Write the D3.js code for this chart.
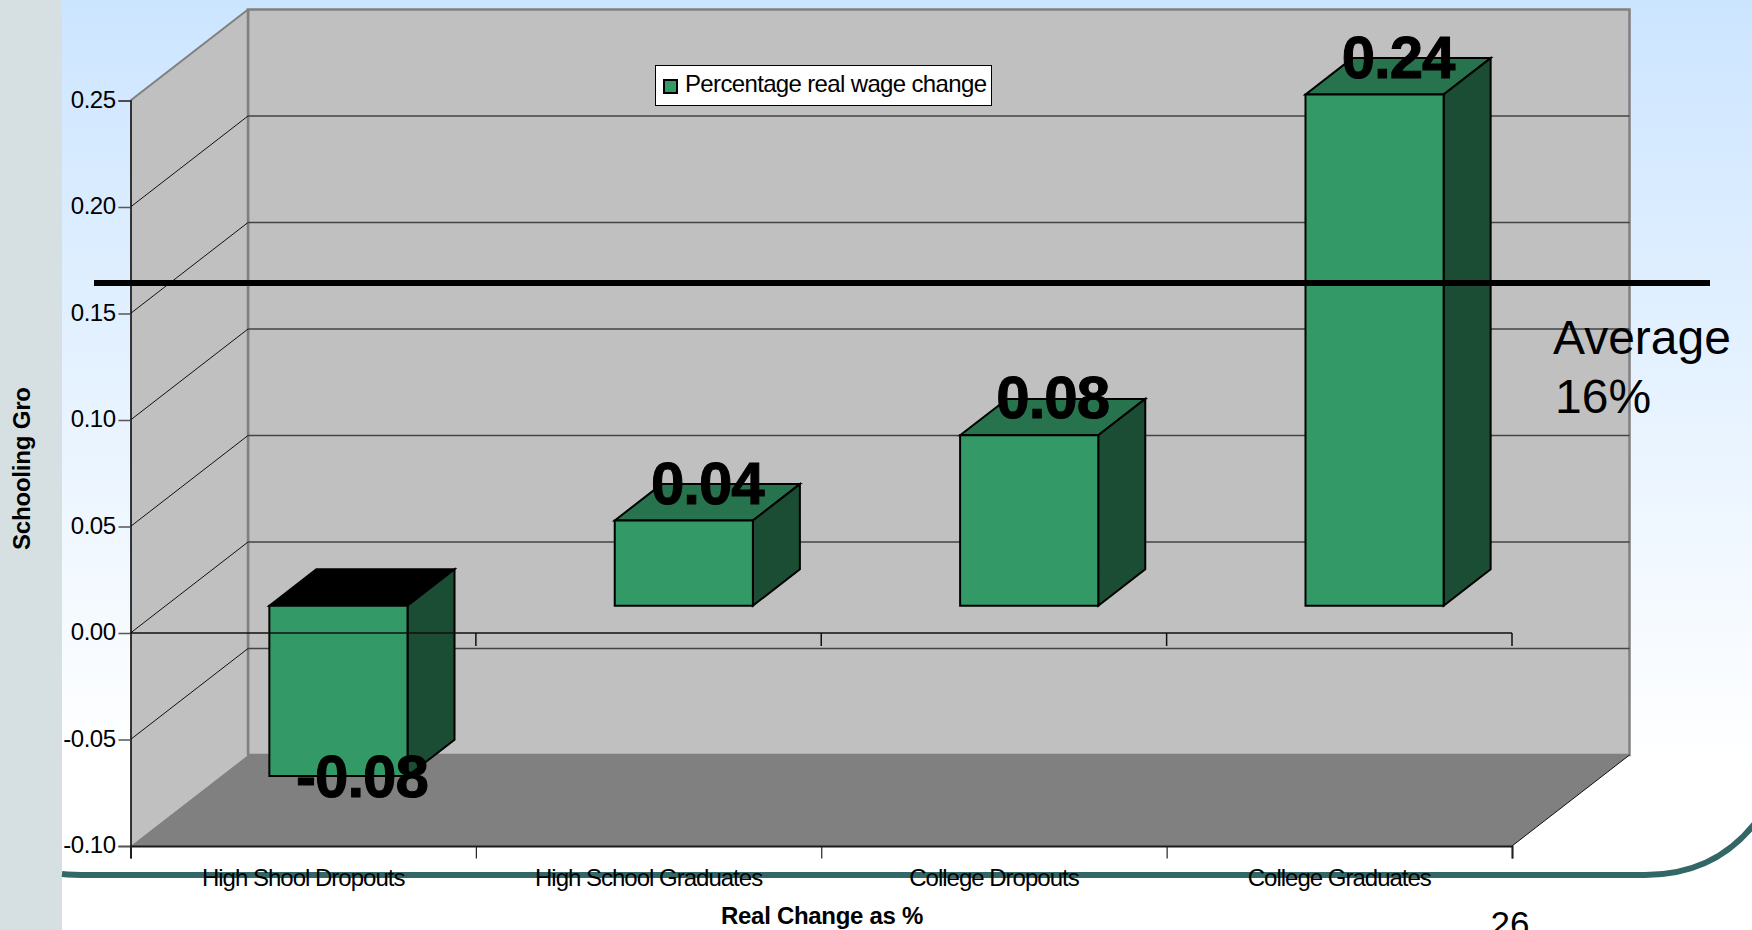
<!DOCTYPE html>
<html>
<head>
    <meta charset="utf-8">
    <title>Percentage real wage change</title>
    <script src="https://d3js.org/d3.v7.min.js"></script>
    <style>
        html, body { margin: 0; padding: 0; background: #fff; overflow: hidden; }
        svg { display: block; }
        text { font-family: "Liberation Sans", Arial, sans-serif; fill: #000; }
        .axis text { font-size: 24px; letter-spacing: -0.5px; }
        .bar-label { font-size: 60px; font-weight: bold; text-anchor: middle; letter-spacing: -1px; stroke: #000; stroke-width: 1px; }
        .category-label { font-size: 24px; text-anchor: middle; }
        .axis-title { font-size: 24px; font-weight: bold; }
    </style>
</head>
<body>
<script>
    // Chart values
    const categories = ["High Shool Dropouts", "High School Graduates", "College Dropouts", "College Graduates"];
    const wageChange = [-0.08, 0.04, 0.08, 0.24];
    const yTicks = [-0.10, -0.05, 0.00, 0.05, 0.10, 0.15, 0.20, 0.25];
    const seriesName = "Percentage real wage change";
    const averageChange = 0.16;

    const W = 1752, H = 930;
    const svg = d3.select("body").append("svg").attr("width", W).attr("height", H);
    const defs = svg.append("defs");

    // Plain hyphen for negatives rather than d3's default minus sign
    const fmt = d3.formatLocale({ decimal: ".", thousands: ",", grouping: [3], currency: ["$", ""], minus: "-" });
    const twoDecimals = fmt.format(".2f");

    // Slide background: pale blue fading to white, grey strip on the left
    const bgGrad = defs.append("linearGradient").attr("id", "slide-bg")
        .attr("x1", 0).attr("y1", 0).attr("x2", 0).attr("y2", 1);
    bgGrad.append("stop").attr("offset", "0%").attr("stop-color", "#cce5ff");
    bgGrad.append("stop").attr("offset", "82%").attr("stop-color", "#ffffff");
    bgGrad.append("stop").attr("offset", "100%").attr("stop-color", "#ffffff");
    svg.append("rect").attr("width", W).attr("height", H).attr("fill", "url(#slide-bg)");
    svg.append("rect").attr("width", 62).attr("height", H).attr("fill", "#d6e0e2");

    // Teal rule that runs along the bottom and curves up at the right edge
    svg.append("path")
        .attr("d", "M62,874 Q72,875 90,875 L1645,875 Q1715,875 1756,822")
        .attr("fill", "none").attr("stroke", "#336666").attr("stroke-width", 6);

    // Front plane scales
    const y = d3.scaleLinear().domain([-0.10, 0.25]).range([846, 100.5]);
    const band = d3.scaleBand().domain(categories).range([130.5, 1512])
        .paddingInner(0.6).paddingOuter(0.3);
    const boundary = d3.scaleLinear().domain([0, categories.length]).range([130.5, 1512]);

    // Oblique depth: z runs 0 (front) to 1 (back wall)
    const depthX = 117.5, depthY = 91;
    const px = (x, z) => x + z * depthX;
    const py = (v, z) => y(v) - z * depthY;
    const poly = pts => d3.line()(pts) + "Z";

    const x0 = boundary.range()[0], x1 = boundary.range()[1];
    const yMin = y.domain()[0], yMax = y.domain()[1];

    // Back wall, side wall, floor
    svg.append("path")
        .attr("d", poly([[px(x0, 1), py(yMax, 1)], [px(x1, 1), py(yMax, 1)], [px(x1, 1), py(yMin, 1)], [px(x0, 1), py(yMin, 1)]]))
        .attr("fill", "#c0c0c0").attr("stroke", "#808080").attr("stroke-width", 2.5);
    svg.append("path")
        .attr("d", poly([[x0, y(yMax)], [px(x0, 1), py(yMax, 1)], [px(x0, 1), py(yMin, 1)], [x0, y(yMin)]]))
        .attr("fill", "#c0c0c0");
    svg.append("line")
        .attr("x1", x0).attr("y1", y(yMax)).attr("x2", px(x0, 1)).attr("y2", py(yMax, 1))
        .attr("stroke", "#808080").attr("stroke-width", 2);
    svg.append("line")
        .attr("x1", px(x0, 1)).attr("y1", py(yMax, 1)).attr("x2", px(x0, 1)).attr("y2", py(yMin, 1))
        .attr("stroke", "#808080").attr("stroke-width", 2.5);
    svg.append("path")
        .attr("d", poly([[x0, y(yMin)], [px(x0, 1), py(yMin, 1)], [px(x1, 1), py(yMin, 1)], [x1, y(yMin)]]))
        .attr("fill", "#808080");

    // Gridlines across the back wall and down the side wall
    const gridTicks = yTicks.filter(t => t > yMin && t < yMax);
    svg.append("g").selectAll("line").data(gridTicks).join("line")
        .attr("x1", px(x0, 1)).attr("x2", px(x1, 1))
        .attr("y1", d => py(d, 1)).attr("y2", d => py(d, 1))
        .attr("stroke", "#444").attr("stroke-width", 1.5);
    svg.append("g").selectAll("line").data(gridTicks).join("line")
        .attr("x1", x0).attr("x2", px(x0, 1))
        .attr("y1", d => y(d)).attr("y2", d => py(d, 1))
        .attr("stroke", "#111").attr("stroke-width", 1);
    svg.append("line")
        .attr("x1", x1).attr("y1", y(yMin)).attr("x2", px(x1, 1)).attr("y2", py(yMin, 1))
        .attr("stroke", "#111").attr("stroke-width", 1);

    // Bars: each one is a front face, a top face and a side face
    const bars = categories.map((c, i) => ({ category: c, value: wageChange[i] }));
    const zNear = 0.3, zFar = 0.7;
    const barGroups = svg.append("g").selectAll("g").data(bars).join("g")
        .attr("stroke", "#000").attr("stroke-width", 2).attr("stroke-linejoin", "miter");

    function face(d, kind) {
        const left = band(d.category), right = left + band.bandwidth();
        const hi = Math.max(d.value, 0), lo = Math.min(d.value, 0);
        if (kind === "front") {
            return poly([[px(left, zNear), py(hi, zNear)], [px(right, zNear), py(hi, zNear)],
                         [px(right, zNear), py(lo, zNear)], [px(left, zNear), py(lo, zNear)]]);
        }
        if (kind === "top") {
            return poly([[px(left, zNear), py(hi, zNear)], [px(left, zFar), py(hi, zFar)],
                         [px(right, zFar), py(hi, zFar)], [px(right, zNear), py(hi, zNear)]]);
        }
        return poly([[px(right, zNear), py(hi, zNear)], [px(right, zFar), py(hi, zFar)],
                     [px(right, zFar), py(lo, zFar)], [px(right, zNear), py(lo, zNear)]]);
    }
    barGroups.append("path").attr("d", d => face(d, "top"))
        .attr("fill", d => d.value < 0 ? "#000" : "#26734d");
    barGroups.append("path").attr("d", d => face(d, "side")).attr("fill", "#1a4d33");
    barGroups.append("path").attr("d", d => face(d, "front")).attr("fill", "#339966");

    // Zero plane line with its category ticks, sits over the bars
    svg.append("line")
        .attr("x1", x0).attr("x2", x1).attr("y1", y(0)).attr("y2", y(0))
        .attr("stroke", "#111").attr("stroke-width", 1.5);
    svg.append("g").selectAll("line").data(d3.range(1, categories.length + 1)).join("line")
        .attr("x1", d => boundary(d)).attr("x2", d => boundary(d))
        .attr("y1", y(0)).attr("y2", y(0) + 13)
        .attr("stroke", "#111").attr("stroke-width", 1.5);

    // Axes
    const yAxis = svg.append("g").attr("class", "axis")
        .attr("transform", `translate(${x0},0)`)
        .call(d3.axisLeft(y).tickValues(yTicks).tickFormat(twoDecimals).tickSize(12).tickPadding(3));
    yAxis.select(".domain").attr("stroke", "#000").attr("stroke-width", 1.5);
    yAxis.selectAll(".tick line").attr("stroke", "#555").attr("stroke-width", 1.5);
    yAxis.selectAll(".tick text").attr("dy", "0.28em");

    const xAxis = svg.append("g").attr("class", "axis")
        .attr("transform", `translate(0,${y(yMin)})`)
        .call(d3.axisBottom(boundary).tickValues(d3.range(0, categories.length + 1)).tickFormat("").tickSize(12.5));
    xAxis.select(".domain").attr("stroke", "#1a1a1a").attr("stroke-width", 2);
    xAxis.selectAll(".tick line").attr("stroke", "#222").attr("stroke-width", 1.2);

    svg.append("g").selectAll("text").data(categories).join("text")
        .attr("class", "category-label")
        .attr("x", d => band(d) + band.bandwidth() / 2)
        .attr("y", 886)
        .attr("letter-spacing", -1)
        .text(d => d);

    // Value labels centred over the top face, or under the bar when negative
    svg.append("g").selectAll("text").data(bars).join("text")
        .attr("class", "bar-label")
        .attr("x", d => px(band(d.category) + band.bandwidth() / 2, 0.5))
        .attr("y", d => d.value < 0 ? py(d.value, zNear) + 21 : py(d.value, zNear) - 17)
        .text(d => twoDecimals(d.value));

    // Legend
    const legend = svg.append("g");
    legend.append("rect").attr("x", 655.5).attr("y", 65.5).attr("width", 336).attr("height", 40)
        .attr("fill", "#fff").attr("stroke", "#000").attr("stroke-width", 1);
    legend.append("rect").attr("x", 664).attr("y", 80).attr("width", 13).attr("height", 13)
        .attr("fill", "#339966").attr("stroke", "#000").attr("stroke-width", 2);
    legend.append("text").attr("x", 685).attr("y", 92).attr("font-size", 24)
        .attr("letter-spacing", -0.65).text(seriesName);

    // Axis titles
    svg.append("text").attr("class", "axis-title")
        .attr("x", 822).attr("y", 924).attr("text-anchor", "middle").attr("letter-spacing", -0.3)
        .text("Real Change as %");
    defs.append("clipPath").attr("id", "title-clip").append("rect")
        .attr("x", 0).attr("y", 388).attr("width", 62).attr("height", 200);
    svg.append("g").attr("clip-path", "url(#title-clip)").append("text").attr("class", "axis-title")
        .attr("transform", "translate(30,550) rotate(-90)").attr("letter-spacing", -0.2)
        .text("Schooling Gro");

    // Average line and its note
    const avgY = py(averageChange, 0.1);
    svg.append("line").attr("x1", 94).attr("x2", 1710).attr("y1", avgY).attr("y2", avgY)
        .attr("stroke", "#000").attr("stroke-width", 6);
    svg.append("text").attr("x", 1553).attr("y", 354).attr("font-size", 48).text("Average");
    svg.append("text").attr("x", 1555).attr("y", 413).attr("font-size", 48).text(d3.format(".0%")(averageChange));

    // Slide number, runs off the bottom edge
    svg.append("text").attr("x", 1510).attr("y", 936).attr("text-anchor", "middle").attr("font-size", 35).text("26");
</script>
</body>
</html>
